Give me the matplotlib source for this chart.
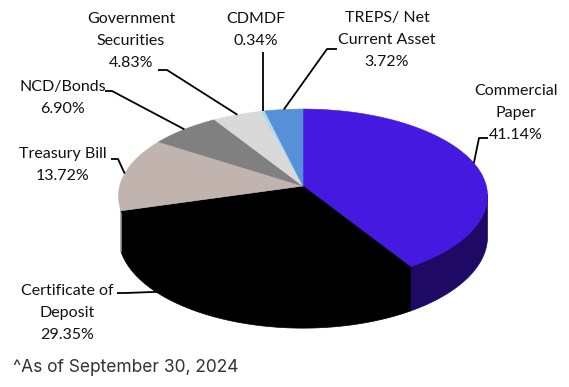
import numpy as np
import matplotlib
matplotlib.use("Agg")
import matplotlib.pyplot as plt
from matplotlib.patches import Polygon

# ---------------- data ----------------
categories = ["Commercial\nPaper", "Certificate of\nDeposit", "Treasury Bill", "NCD/Bonds",
              "Government\nSecurities", "CDMDF", "TREPS/ Net\nCurrent Asset"]
values = [41.14, 29.35, 13.72, 6.90, 4.83, 0.34, 3.72]
top_colors = ["#4619E1", "#000000", "#C1B4AF", "#808080", "#D9D9D9", "#A9D9EC", "#5690D8"]
side_colors = ["#1E0A64", "#000000", "#8C807C", "#5A5A5A", "#A0A0A0", "#7AAFC2", "#3D68A0"]
footnote = "^As of September 30, 2024"

# ---------------- layout ----------------
W, H = 569, 387
fig = plt.figure(figsize=(W / 100, H / 100), dpi=100)
ax = fig.add_axes([0, 0, 1, 1])
ax.set_xlim(0, W)
ax.set_ylim(H, 0)
ax.axis("off")

XC, YC = 303, 186                 # projected pie centre
A, B, P = 183.3, 85.8, -0.1149    # perspective ellipse parameters
D = 40.0                          # pie thickness


def proj(phi):
    """phi in radians, measured clockwise from 12 o'clock."""
    u = np.sin(phi)
    v = -np.cos(phi)
    den = 1 + P * v
    return XC + A * u / den, YC + B * v / den, D / den


total = float(sum(values))
bounds = np.concatenate([[0], np.cumsum(values)]) / total * 360.0
vis0, vis1 = 96.6, 254.0  # visible side-wall range (deg)

# side walls (top edge tucked slightly under the top face to avoid seams)
for i in range(len(values)):
    a0, a1 = max(bounds[i], vis0), min(bounds[i + 1], vis1)
    if a1 <= a0:
        continue
    ph = np.radians(np.linspace(a0, a1, 80))
    x, y, d = proj(ph)
    pts = np.concatenate([np.column_stack([x, y - 1.5]),
                          np.column_stack([x[::-1], (y + d)[::-1]])])
    ax.add_patch(Polygon(pts, closed=True, facecolor=side_colors[i],
                         edgecolor=side_colors[i], lw=0.5, zorder=1))

# top faces
for i in range(len(values)):
    ph = np.radians(np.linspace(bounds[i], bounds[i + 1], 120))
    x, y, _ = proj(ph)
    pts = np.concatenate([[[XC, YC]], np.column_stack([x, y])])
    ax.add_patch(Polygon(pts, closed=True, facecolor=top_colors[i],
                         edgecolor=top_colors[i], lw=0.4, zorder=2))

# ---------------- labels ----------------
label_x = [516, 67, 63, 63, 131, 256, 387]
label_y0 = [91, 291, 154, 87, 19, 19, 18]
line_gap = 22
leader_start = [(488, 138), (117, 293), (111, 159), (105, 91), (158, 70), (None, 52), (337, 49)]
elbow_dx = [-9, 8, 7, 7, 9, 0, -10]
anchor_depth = [0, 0.3, 0, 0, 0, 0, 0]

font = "Lato"
for i, (cat, val) in enumerate(zip(categories, values)):
    lines = cat.split("\n") + [f"{val:.2f}%"]
    for k, ln in enumerate(lines):
        ax.text(label_x[i], label_y0[i] + k * line_gap, ln, ha="center", va="center",
                fontsize=11.5, family=font, color="#111111", zorder=5)
    mid = np.radians((bounds[i] + bounds[i + 1]) / 2)
    mx, my, md = proj(mid)
    my = my + anchor_depth[i] * md
    sx, sy = leader_start[i]
    if sx is None:
        sx = mx
    ex = sx + elbow_dx[i]
    ax.plot([sx, ex, mx], [sy, sy, my], color="black", lw=1.3, zorder=3,
            solid_capstyle="butt")

ax.text(13, 367, footnote, ha="left", va="center", fontsize=12.5, family="Inter",
        color="#333333")

fig.savefig("out.png", dpi=100)
